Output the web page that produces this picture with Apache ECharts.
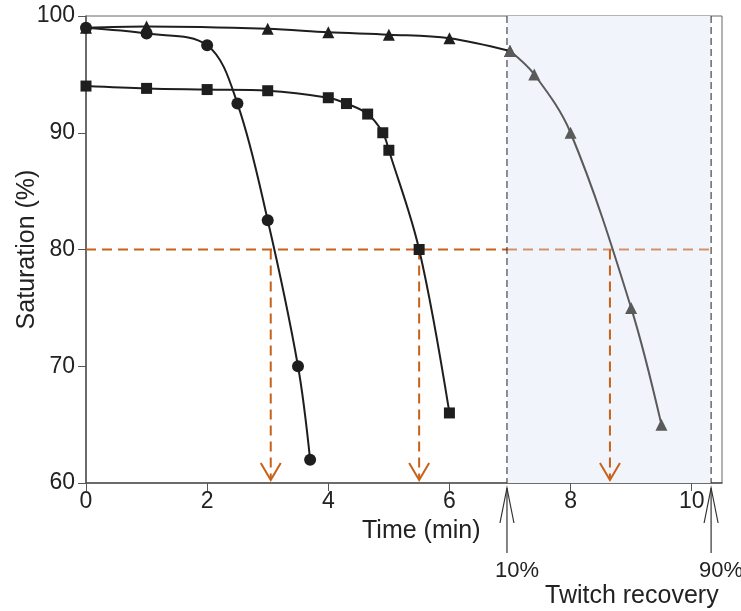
<!DOCTYPE html>
<html>
<head>
<meta charset="utf-8">
<script src="https://cdn.jsdelivr.net/npm/echarts@6/dist/echarts.min.js"></script>
<style>
  html, body { margin: 0; padding: 0; background: #fff; }
  #chart { width: 741px; height: 611px; }
</style>
</head>
<body>
<div id="chart"></div>
<script>
// data
const circleData = [[0, 99], [1, 98.5], [2, 97.5], [2.5, 92.5], [3, 82.5], [3.5, 70], [3.7, 62]]
const squareData = [[0, 94], [1, 93.8], [2, 93.7], [3, 93.6], [4, 93], [4.3, 92.5], [4.65, 91.6], [4.9, 90], [5, 88.5], [5.5, 80], [6, 66]]
const triangleBlack = [[0, 99], [1, 99.1], [3, 98.9], [4, 98.6], [5, 98.4], [6, 98.1], [7, 97]]
const triangleGray = [[7, 97], [7.4, 95], [8, 90], [9, 75], [9.5, 65]]
const threshold = 80
const crossTimes = [3.05, 5.5, 8.65]
const recoveryTimes = [6.95, 10.32]
const recoveryLabels = ['10%', '90%']
const xTicks = [0, 2, 4, 6, 8, 10]

const FONT = '"Liberation Sans", Arial, sans-serif'
const ORANGE = '#c8611a'
const ORANGE_LIGHT = '#d5926a'

const chart = echarts.init(document.getElementById('chart'))

const option = {
  animation: false,
  grid: {
    left: 86, right: 19, top: 16, bottom: 128,
    outerBoundsMode: 'none',
    containLabel: false,
    show: true, borderColor: '#666', borderWidth: 1
  },
  xAxis: {
    type: 'value',
    min: 0, max: 10.5,
    splitLine: { show: false },
    axisLine: { lineStyle: { color: '#555', width: 1.5 } },
    axisTick: { customValues: xTicks, length: 8, lineStyle: { color: '#555' } },
    axisLabel: { customValues: xTicks, fontSize: 23, color: '#222', fontFamily: FONT, margin: 7 }
  },
  yAxis: {
    type: 'value',
    min: 60, max: 100, interval: 10,
    name: 'Saturation (%)',
    nameLocation: 'middle',
    nameGap: 46,
    nameMoveOverlap: false,
    nameTextStyle: { fontSize: 25, color: '#222', fontFamily: FONT },
    splitLine: { show: false },
    axisLine: { lineStyle: { color: '#555', width: 1.5 } },
    axisTick: { length: 8, lineStyle: { color: '#555' } },
    axisLabel: { fontSize: 23, color: '#222', fontFamily: FONT, margin: 11 }
  },
  graphic: [
    { type: 'text', left: 362, top: 519, style: { text: 'Time (min)', font: '25px ' + FONT, fill: '#222' } },
    { type: 'text', left: 545, top: 584, style: { text: 'Twitch recovery', font: '25px ' + FONT, fill: '#222' } }
  ],
  series: [
    // shaded recovery window
    {
      type: 'line', data: [], z: 1, silent: true,
      markArea: {
        silent: true,
        itemStyle: { color: '#f1f4fa' },
        data: [[{ xAxis: recoveryTimes[0] }, { xAxis: recoveryTimes[1] }]]
      }
    },
    // 80% threshold line
    {
      type: 'line', z: 2, silent: true, symbol: 'none',
      data: [[0, threshold], [recoveryTimes[0], threshold]],
      lineStyle: { color: ORANGE, width: 2, type: [10, 6] }
    },
    {
      type: 'line', z: 2, silent: true, symbol: 'none',
      data: [[recoveryTimes[0], threshold], [recoveryTimes[1], threshold]],
      lineStyle: { color: ORANGE_LIGHT, width: 2, type: [10, 6] }
    },
    // orange arrows down to the time axis
    {
      type: 'custom', z: 3, silent: true,
      data: crossTimes.map(t => [t]),
      renderItem: (params, api) => {
        const top = api.coord([api.value(0), threshold])
        const bot = api.coord([api.value(0), 60])
        return {
          type: 'group',
          children: [
            { type: 'line', shape: { x1: top[0], y1: top[1], x2: bot[0], y2: bot[1] - 4 },
              style: { stroke: ORANGE, lineWidth: 2, lineDash: [10, 6] } },
            { type: 'polyline', shape: { points: [[bot[0] - 10, bot[1] - 20], [bot[0], bot[1] - 3], [bot[0] + 10, bot[1] - 20]] },
              style: { stroke: ORANGE, lineWidth: 2, fill: null } }
          ]
        }
      }
    },
    // twitch recovery markers
    {
      type: 'custom', z: 3, silent: true, clip: false,
      data: recoveryTimes.map((t, i) => [t, i]),
      renderItem: (params, api) => {
        const top = api.coord([api.value(0), 100])
        const bot = api.coord([api.value(0), 60])
        const x = bot[0], y = bot[1]
        return {
          type: 'group',
          children: [
            { type: 'line', shape: { x1: x, y1: top[1], x2: x, y2: y },
              style: { stroke: '#222', lineWidth: 1, lineDash: [7, 4] } },
            { type: 'line', shape: { x1: x, y1: y + 5, x2: x, y2: y + 70 },
              style: { stroke: '#333', lineWidth: 1.2 } },
            { type: 'polyline', shape: { points: [[x - 7, y + 40], [x, y + 5], [x + 7, y + 40]] },
              style: { stroke: '#333', lineWidth: 1.2, fill: null } },
            { type: 'text', x: x + 10, y: y + 88,
              style: { text: recoveryLabels[api.value(1)], font: '22px ' + FONT, fill: '#222', align: 'center', verticalAlign: 'middle' } }
          ]
        }
      }
    },
    {
      name: 'triangles', type: 'line', z: 4, data: triangleBlack,
      smooth: 0.35, symbol: 'triangle', symbolSize: 12,
      lineStyle: { color: '#1e1e1e', width: 2 }, itemStyle: { color: '#1e1e1e' }
    },
    {
      name: 'triangles recovery', type: 'line', z: 4, data: triangleGray,
      smooth: 0.35, symbol: 'triangle', symbolSize: 12,
      lineStyle: { color: '#5a5a5a', width: 2 }, itemStyle: { color: '#5a5a5a' }
    },
    {
      name: 'squares', type: 'line', z: 5, data: squareData,
      smooth: 0.35, symbol: 'rect', symbolSize: 11,
      lineStyle: { color: '#1e1e1e', width: 2 }, itemStyle: { color: '#1e1e1e' }
    },
    {
      name: 'circles', type: 'line', z: 6, data: circleData,
      smooth: 0.35, symbol: 'circle', symbolSize: 12,
      lineStyle: { color: '#1e1e1e', width: 2 }, itemStyle: { color: '#1e1e1e' }
    }
  ]
}

chart.setOption(option)
</script>
</body>
</html>
